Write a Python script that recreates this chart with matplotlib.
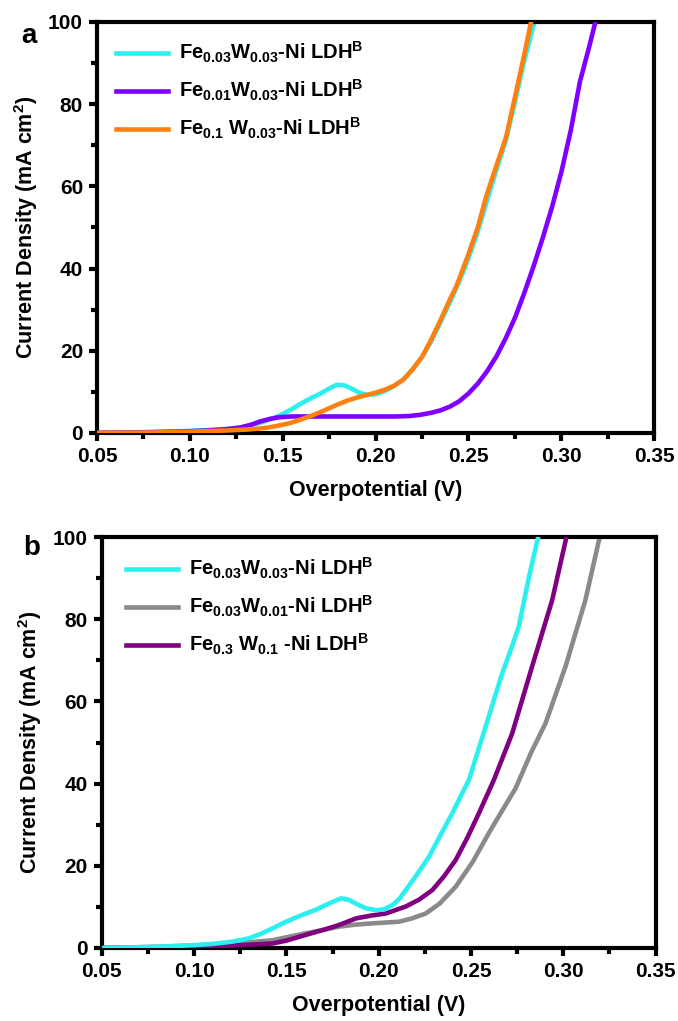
import numpy as np
import matplotlib.pyplot as plt

plt.rcParams['font.family'] = 'Liberation Sans'
plt.rcParams['font.weight'] = 'bold'
plt.rcParams['mathtext.fontset'] = 'custom'
plt.rcParams['mathtext.rm'] = 'Liberation Sans:bold'
plt.rcParams['mathtext.bf'] = 'Liberation Sans:bold'
plt.rcParams['mathtext.default'] = 'rm'

## Panel a: LSV curves (overpotential in V, current density in mA cm^2)
a_cyan_v = [0.05, 0.07, 0.09, 0.10, 0.11, 0.12, 0.127, 0.132, 0.138, 0.145, 0.150, 0.155, 0.160, 0.165,
            0.170, 0.175, 0.179, 0.183, 0.187, 0.191, 0.195, 0.200, 0.205, 0.210, 0.215, 0.220, 0.225,
            0.230, 0.235, 0.240, 0.245, 0.250, 0.255, 0.260, 0.265, 0.270, 0.275, 0.280, 0.2855]
a_cyan_j = [0.0, 0.1, 0.3, 0.5, 0.7, 1.0, 1.3, 1.7, 2.5, 3.6, 4.6, 5.8, 7.2, 8.4,
            9.5, 10.8, 11.7, 11.6, 10.8, 9.8, 9.3, 9.4, 10.2, 11.4, 13.0, 15.5, 18.5,
            22.3, 27.0, 31.8, 36.8, 42.5, 49.0, 56.5, 64.0, 71.0, 80.5, 90.5, 100.0]
a_purple_v = [0.05, 0.08, 0.10, 0.11, 0.12, 0.127, 0.133, 0.138, 0.143, 0.148, 0.155, 0.17, 0.19, 0.21,
              0.218, 0.224, 0.230, 0.235, 0.240, 0.245, 0.250, 0.255, 0.260, 0.265, 0.270, 0.275,
              0.280, 0.285, 0.290, 0.295, 0.300, 0.305, 0.310, 0.315, 0.3183]
a_purple_j = [0.0, 0.2, 0.4, 0.6, 0.9, 1.3, 2.0, 2.8, 3.4, 3.8, 4.0, 4.0, 4.0, 4.0,
              4.1, 4.4, 4.9, 5.5, 6.4, 7.7, 9.6, 12.0, 15.0, 18.6, 23.0, 28.0,
              34.0, 40.5, 47.5, 55.0, 63.5, 73.5, 85.5, 94.0, 100.0]
a_orange_v = [0.05, 0.08, 0.10, 0.12, 0.13, 0.136, 0.142, 0.148, 0.154, 0.160, 0.165, 0.170, 0.175,
              0.180, 0.185, 0.190, 0.195, 0.200, 0.205, 0.210, 0.215, 0.220, 0.225, 0.230, 0.235,
              0.240, 0.2434, 0.250, 0.255, 0.2595, 0.265, 0.2703, 0.275, 0.280, 0.2837]
a_orange_j = [0.0, 0.1, 0.3, 0.6, 0.8, 1.0, 1.3, 1.8, 2.4, 3.3, 4.1, 5.0, 6.0,
              7.0, 7.9, 8.6, 9.2, 9.8, 10.5, 11.5, 13.0, 15.5, 18.5, 22.8, 27.5,
              32.5, 35.6, 43.5, 50.0, 57.5, 65.0, 72.1, 81.7, 92.0, 100.0]

## Panel b
b_cyan_v = [0.05, 0.08, 0.10, 0.11, 0.12, 0.125, 0.13, 0.136, 0.1426, 0.148, 0.154, 0.1606, 0.166, 0.172,
            0.1796, 0.184, 0.188, 0.193, 0.1985, 0.203, 0.208, 0.2115, 0.2147, 0.220, 0.2273, 0.2335,
            0.2399, 0.2445, 0.2489, 0.2535, 0.2579, 0.2625, 0.2669, 0.2715, 0.2759, 0.2814, 0.2864]
b_cyan_j = [0.0, 0.3, 0.7, 1.0, 1.5, 1.9, 2.4, 3.4, 4.8, 6.0, 7.2, 8.4, 9.3, 10.6,
            12.1, 11.7, 10.7, 9.7, 9.2, 9.4, 10.6, 12.1, 14.1, 17.4, 22.2, 27.5,
            32.8, 37.0, 40.9, 47.5, 53.8, 60.5, 66.8, 72.5, 78.2, 90.3, 100.0]
b_gray_v = [0.05, 0.08, 0.10, 0.12, 0.13, 0.1426, 0.1606, 0.170, 0.1786, 0.1876, 0.1967, 0.204, 0.2111,
            0.218, 0.2255, 0.233, 0.2417, 0.251, 0.2597, 0.267, 0.2742, 0.2825, 0.2904, 0.3012,
            0.312, 0.3197]
b_gray_j = [0.0, 0.3, 0.6, 1.1, 1.4, 1.9, 3.6, 4.4, 5.2, 5.7, 6.0, 6.2, 6.4,
            7.2, 8.4, 10.8, 14.9, 21.0, 28.0, 33.5, 38.9, 47.5, 54.7, 68.5,
            84.7, 100.0]
b_purple_v = [0.05, 0.08, 0.10, 0.12, 0.13, 0.1426, 0.150, 0.1606, 0.170, 0.1786, 0.1877, 0.196, 0.2039,
              0.2147, 0.222, 0.2291, 0.2355, 0.2417, 0.248, 0.2543, 0.2624, 0.2723, 0.2831, 0.294,
              0.3017]
b_purple_j = [0.0, 0.1, 0.3, 0.6, 0.8, 1.1, 1.8, 3.2, 4.4, 5.6, 7.2, 7.9, 8.4,
              10.1, 11.8, 14.1, 17.5, 21.4, 26.8, 32.8, 40.9, 52.2, 68.5, 84.7,
              100.0]

a_labels = [r"Fe$_{0.03}$W$_{0.03}$-Ni LDH$^{B}$",
            r"Fe$_{0.01}$W$_{0.03}$-Ni LDH$^{B}$",
            r"Fe$_{0.1}$ W$_{0.03}$-Ni LDH$^{B}$"]
b_labels = [r"Fe$_{0.03}$W$_{0.03}$-Ni LDH$^{B}$",
            r"Fe$_{0.03}$W$_{0.01}$-Ni LDH$^{B}$",
            r"Fe$_{0.3}$ W$_{0.1}$ -Ni LDH$^{B}$"]

cyan = '#2cf0f0'
purple = '#7f00ff'
orange = '#ff8010'
gray = '#8a8a8a'
dpurple = '#800080'

fig = plt.figure(figsize=(6.78, 10.21), dpi=100)
ax_a = fig.add_axes([0.143, 0.576, 0.822, 0.4025])
ax_b = fig.add_axes([0.150, 0.0715, 0.817, 0.4025])


def style_axes(ax):
    ax.set_xlim(0.05, 0.35)
    ax.set_ylim(0, 100)
    ax.set_xticks(np.arange(0.05, 0.351, 0.05))
    ax.set_xticklabels(['0.05', '0.10', '0.15', '0.20', '0.25', '0.30', '0.35'])
    ax.set_xticks(np.arange(0.075, 0.35, 0.05), minor=True)
    ax.set_yticks([0, 20, 40, 60, 80, 100])
    ax.set_yticks([10, 30, 50, 70, 90], minor=True)
    for s in ax.spines.values():
        s.set_linewidth(3)
    ax.tick_params(which='major', direction='out', length=6, width=3, labelsize=15, pad=4)
    ax.tick_params(which='minor', direction='out', length=4, width=3)
    ax.set_xlabel('Overpotential (V)', fontsize=15.5, fontweight='bold', labelpad=10)
    ax.set_ylabel(r'Current Density (mA cm$^{2}$)', fontsize=15.5, fontweight='bold', labelpad=6)


lw = 3.3
ax_a.plot(a_cyan_v, a_cyan_j, color=cyan, lw=lw, label=a_labels[0], zorder=2)
ax_a.plot(a_purple_v, a_purple_j, color=purple, lw=lw, label=a_labels[1], zorder=3)
ax_a.plot(a_orange_v, a_orange_j, color=orange, lw=lw, label=a_labels[2], zorder=4)
style_axes(ax_a)
ax_a.legend(loc='upper left', bbox_to_anchor=(0.002, 1.0), frameon=False, fontsize=14.5,
            handlelength=2.55, handletextpad=0.55, labelspacing=0.64)
fig.text(0.032, 0.965, 'a', fontsize=20, fontweight='bold', va='center')

ax_b.plot(b_cyan_v, b_cyan_j, color=cyan, lw=lw, label=b_labels[0], zorder=4)
ax_b.plot(b_gray_v, b_gray_j, color=gray, lw=lw, label=b_labels[1], zorder=2)
ax_b.plot(b_purple_v, b_purple_j, color=dpurple, lw=lw, label=b_labels[2], zorder=3)
style_axes(ax_b)
ax_b.legend(loc='upper left', bbox_to_anchor=(0.012, 0.998), frameon=False, fontsize=14.5,
            handlelength=2.55, handletextpad=0.55, labelspacing=0.64)
fig.text(0.035, 0.463, 'b', fontsize=20, fontweight='bold', va='center')

fig.savefig('out.png', dpi=100)
